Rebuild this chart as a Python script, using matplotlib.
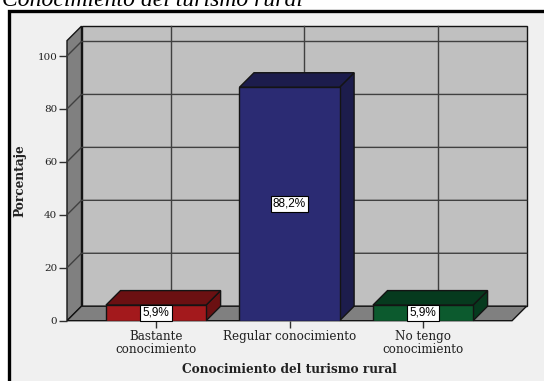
import numpy as np
import matplotlib
matplotlib.use('Agg')
import matplotlib.pyplot as plt
from matplotlib.patches import Polygon, Rectangle

categories = ['Bastante\nconocimiento', 'Regular conocimiento', 'No tengo\nconocimiento']
percent = [5.9, 88.2, 5.9]
value_labels = ['5,9%', '88,2%', '5,9%']
yticks = [0, 20, 40, 60, 80, 100]

FRONT = ['#a3191c', '#2b2b73', '#0c5a2e']
SHADE = ['#6b1012', '#1c1c4c', '#063a1e']
WALL_BACK = '#c0c0c0'
WALL_SIDE = '#808080'
GRID = '#404040'
EDGE = '#141414'
PANEL = '#f0f0f0'

W, H, DPI = 544, 381, 100
X0, X1 = -0.667, 2.667   # front floor edge, category units
YTOP = 105.8             # top of the value axis
DEPTH = 14.5             # 3d depth in pixels
BAR_W = 0.75

fig = plt.figure(figsize=(W / DPI, H / DPI), dpi=DPI, facecolor='white')

# panel with heavy black border
fig.patches.append(Rectangle((8.5 / W, -0.05), 1.0, 1 + 0.05 - 10.5 / H,
                             transform=fig.transFigure, facecolor=PANEL,
                             edgecolor='black', linewidth=2.4, zorder=-10))
fig.text(2 / W, 1 - 6.5 / H, 'Conocimiento del turismo rural',
         family='Liberation Serif', style='italic', fontsize=17,
         ha='left', va='baseline')

ax_w = (X1 - X0) * 133.5 + DEPTH
ax_h = YTOP * 2.647 + DEPTH
ax = fig.add_axes([67 / W, 1 - 320.7 / H, ax_w / W, ax_h / H])
ax.set_zorder(5)
ax.patch.set_visible(False)
for s in ax.spines.values():
    s.set_visible(False)

# depth offsets in data units
DX = DEPTH * (X1 - X0) / (ax_w - DEPTH)
DY = DEPTH * YTOP / (ax_h - DEPTH)
ax.set_xlim(X0, X1 + DX)
ax.set_ylim(0, YTOP + DY)

def poly(pts, fc, z, lw=1.0):
    ax.add_patch(Polygon(pts, closed=True, facecolor=fc, edgecolor=EDGE,
                         linewidth=lw, zorder=z, clip_on=False))

# walls and floor
poly([(X0 + DX, DY), (X1 + DX, DY), (X1 + DX, YTOP + DY), (X0 + DX, YTOP + DY)], WALL_BACK, 1)
poly([(X0, 0), (X0 + DX, DY), (X0 + DX, YTOP + DY), (X0, YTOP)], WALL_SIDE, 1)
poly([(X0, 0), (X1, 0), (X1 + DX, DY), (X0 + DX, DY)], WALL_SIDE, 1)

# grid
for t in yticks[1:]:
    ax.plot([X0, X0 + DX, X1 + DX], [t, t + DY, t + DY], color=GRID, lw=1, zorder=2, clip_on=False)
for i in range(len(categories)):
    ax.plot([i + DX, i + DX], [DY, YTOP + DY], color=GRID, lw=1, zorder=2, clip_on=False)

# bars
for i, v in enumerate(percent):
    l, r = i - BAR_W / 2, i + BAR_W / 2
    poly([(r, 0), (r + DX, DY), (r + DX, v + DY), (r, v)], SHADE[i], 3)
    poly([(l, v), (r, v), (r + DX, v + DY), (l + DX, v + DY)], SHADE[i], 3)
    ax.bar(i, v, width=BAR_W, color=FRONT[i], edgecolor=EDGE, linewidth=1.0, zorder=4)
    ax.text(i, v / 2, value_labels[i], ha='center', va='center', fontsize=8.5,
            family='Liberation Sans', zorder=5,
            bbox=dict(boxstyle='square,pad=0.2', facecolor='white', edgecolor='black', linewidth=0.8))

ax.set_yticks(yticks)
ax.set_yticklabels([str(t) for t in yticks], family='DejaVu Serif', fontsize=7.5, color='#222222')
ax.set_xticks(range(len(categories)))
ax.set_xticklabels(categories, family='DejaVu Serif', fontsize=8.6, color='#222222', linespacing=1.0)
ax.tick_params(axis='y', length=6, width=1, color='#303030', pad=1)
ax.tick_params(axis='x', length=5, width=1, color='#303030', pad=2)

ax.set_xlabel('Conocimiento del turismo rural', family='DejaVu Serif', fontweight='bold',
              fontsize=8.7, color='#222222')
ax.xaxis.set_label_coords((289.5 - 67) / ax_w, (320.7 - 363) / ax_h)
ax.set_ylabel('Porcentaje', family='DejaVu Serif', fontweight='bold', fontsize=8.7, color='#222222')
ax.yaxis.set_label_coords((26 - 67) / ax_w, (320.7 - 180.7) / ax_h)

fig.savefig('out.png', dpi=DPI, facecolor='white')
